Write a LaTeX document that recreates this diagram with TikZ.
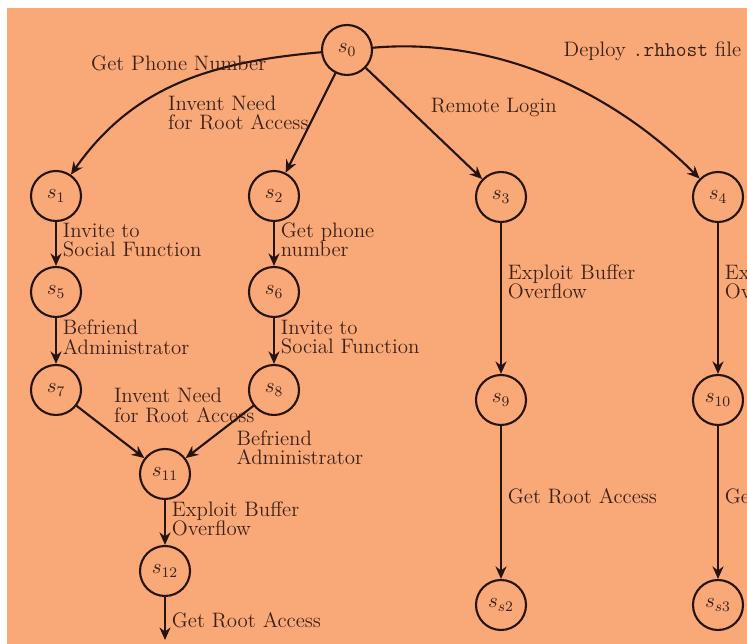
\RequirePackage{fix-cm}
\documentclass[tikz,border=0pt]{standalone}
\usetikzlibrary{arrows.meta}
\definecolor{bgOrange}{RGB}{249,168,120}
\definecolor{inkDark}{RGB}{38,20,12}
\definecolor{textBrown}{RGB}{60,34,22}

\begin{document}
\begin{tikzpicture}[font=\fontsize{11.9}{10.9}\selectfont,
  state/.style={circle, draw=inkDark, line width=1.2pt, minimum size=1.0cm, inner sep=0pt, text=textBrown},
  trans/.style={draw=inkDark, line width=1.2pt, -{Stealth[length=2.5mm,width=2.2mm]}},
  lbl/.style={align=left, text=textBrown}]
% Page and background
\useasboundingbox (0,0) rectangle (14.94,12.88);
\fill[white] (0,0) rectangle (14.94,12.88);
\begin{scope}
\clip (0.14,0) rectangle (14.94,12.72);
\fill[bgOrange] (0.14,0) rectangle (14.94,12.72);

% States
\node[state] (s0)  at (6.94,11.88) {$s_0$};
\node[state] (s1)  at (1.12,8.96)  {$s_1$};
\node[state] (s2)  at (5.48,8.96)  {$s_2$};
\node[state] (s3)  at (10.02,8.94) {$s_3$};
\node[state] (s4)  at (14.36,8.94) {$s_4$};
\node[state] (s5)  at (1.12,7.04)  {$s_5$};
\node[state] (s6)  at (5.48,7.04)  {$s_6$};
\node[state] (s7)  at (1.12,5.08)  {$s_7$};
\node[state] (s8)  at (5.48,5.08)  {$s_8$};
\node[state] (s9)  at (10.02,4.88) {$s_9$};
\node[state] (s10) at (14.36,4.88) {$s_{10}$};
\node[state] (s11) at (3.30,3.40)  {$s_{11}$};
\node[state] (s12) at (3.30,1.46)  {$s_{12}$};
\node[state] (ss2) at (10.02,0.78) {$s_{s2}$};
\node[state] (ss3) at (14.36,0.78) {$s_{s3}$};
\coordinate (s12end) at (3.30,0.08);

% Transitions from s0
\draw[trans] (s0) to[out=185,in=55] node[lbl,above,yshift=3pt] {Get Phone Number} (s1);
\draw[trans] (s0) -- node[lbl,left,pos=0.4] {Invent Need\\for Root Access} (s2);
\draw[trans] (s0) -- node[lbl,above right] {Remote Login} (s3);
\draw[trans] (s0) to[out=5,in=135,looseness=0.9] node[lbl,above right,xshift=4pt,yshift=5pt] {Deploy \texttt{.rhhost} file} (s4);

% Social engineering branches
\draw[trans] (s1) -- node[lbl,right,pos=0.41] {Invite to\\Social Function} (s5);
\draw[trans] (s5) -- node[lbl,right,pos=0.42] {Befriend\\Administrator} (s7);
\draw[trans] (s2) -- node[lbl,right,pos=0.41] {Get phone\\number} (s6);
\draw[trans] (s6) -- node[lbl,right,pos=0.42] {Invite to\\Social Function} (s8);
\draw[trans] (s7) -- node[lbl,above right,pos=0.45] {Invent Need\\for Root Access} (s11);
\draw[trans] (s8) -- node[lbl,below right,pos=0.35] {Befriend\\Administrator} (s11);
\draw[trans] (s11) -- node[lbl,right,pos=0.42] {Exploit Buffer\\Overflow} (s12);
\draw[trans] (s12) -- node[lbl,right,pos=0.55] {Get Root Access} (s12end);

% Remote branches
\draw[trans] (s3) -- node[lbl,right,pos=0.39] {Exploit Buffer\\Overflow} (s9);
\draw[trans] (s9) -- node[lbl,right,pos=0.46] {Get Root Access} (ss2);
\draw[trans] (s4) -- node[lbl,right,pos=0.39] {Exploit Buffer\\Overflow} (s10);
\draw[trans] (s10) -- node[lbl,right,pos=0.46] {Get Root Access} (ss3);
\end{scope}
\end{tikzpicture}
\end{document}
